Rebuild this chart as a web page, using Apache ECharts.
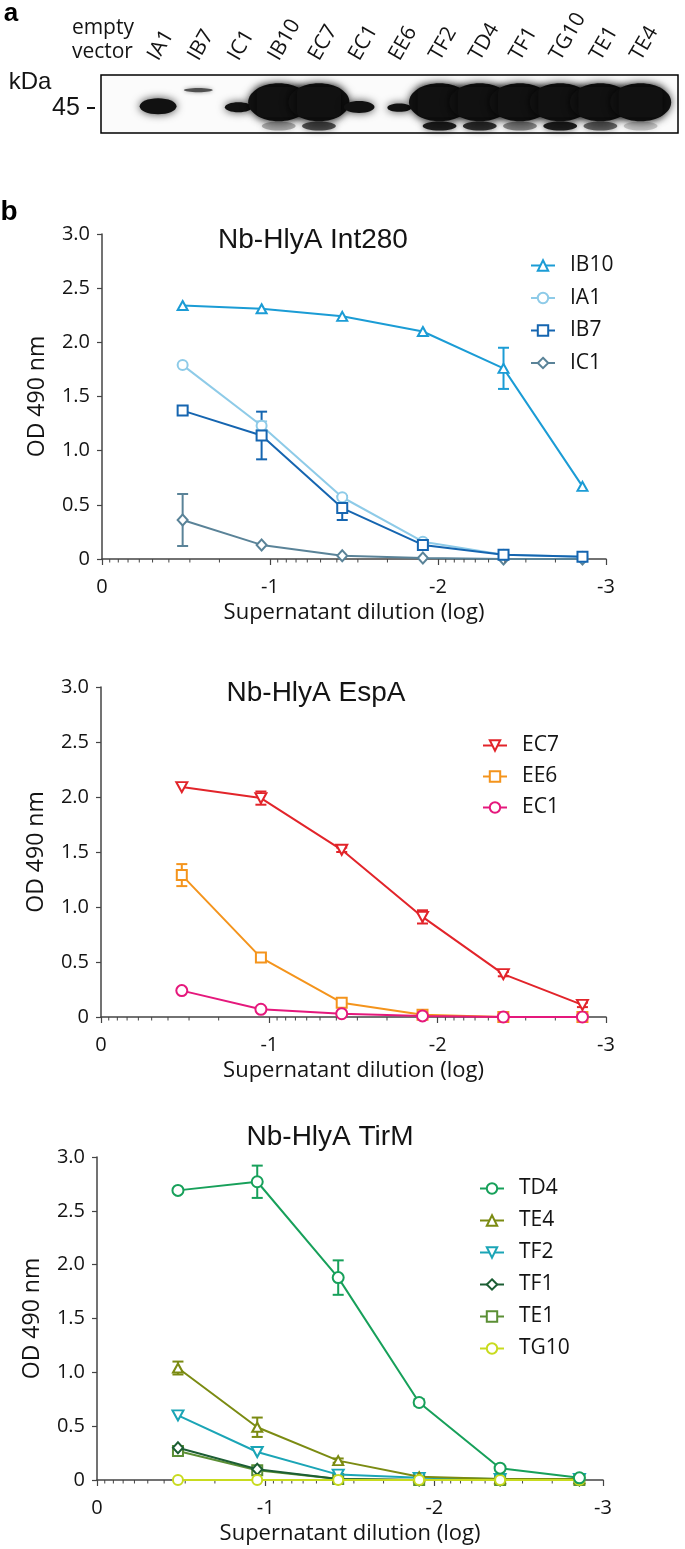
<!DOCTYPE html>
<html><head><meta charset="utf-8">
<script src="https://cdn.jsdelivr.net/npm/echarts@6/dist/echarts.min.js"></script>
<style>html,body{margin:0;padding:0;background:#fff}#c{width:685px;height:1549px}</style>
</head><body><div id="c"></div>
<script>
// ---------- data ----------
const dilutionLog = [-0.48, -0.95, -1.43, -1.91, -2.39, -2.86];
const xTickLabels = ['0', '-1', '-2', '-3'];
const minorTicks = [-0.046, -0.097, -0.155, -0.222, -0.301, -0.398, -0.523, -0.699,
  -1.046, -1.097, -1.155, -1.222, -1.301, -1.398, -1.523, -1.699,
  -2.046, -2.097, -2.155, -2.222, -2.301, -2.398, -2.523, -2.699];

// Nb-HlyA Int280
const IB10 = [2.34, 2.31, 2.24, 2.10, 1.76, 0.67];
const IB10err = [0, 0, 0, 0, 0.19, 0];
const IA1 = [1.79, 1.23, 0.57, 0.16, 0.04, 0.02];
const IA1err = [0, 0.04, 0, 0, 0, 0];
const IB7 = [1.37, 1.14, 0.47, 0.13, 0.04, 0.02];
const IB7err = [0.03, 0.22, 0.11, 0.02, 0, 0];
const IC1 = [0.36, 0.13, 0.03, 0.01, 0.00, 0.00];
const IC1err = [0.24, 0, 0, 0, 0, 0];

// Nb-HlyA EspA
const EC7 = [2.09, 1.99, 1.52, 0.91, 0.39, 0.11];
const EC7err = [0, 0.06, 0.02, 0.06, 0.02, 0.02];
const EE6 = [1.29, 0.54, 0.13, 0.02, 0.00, 0.00];
const EE6err = [0.10, 0.02, 0, 0, 0, 0];
const EC1 = [0.24, 0.07, 0.03, 0.01, 0.00, 0.00];

// Nb-HlyA TirM
const TD4 = [2.69, 2.77, 1.88, 0.72, 0.11, 0.02];
const TD4err = [0, 0.15, 0.16, 0.03, 0.01, 0];
const TE4 = [1.04, 0.49, 0.18, 0.03, 0.01, 0.01];
const TE4err = [0.06, 0.09, 0.02, 0, 0, 0];
const TF2 = [0.60, 0.26, 0.05, 0.02, 0.01, 0.01];
const TF1 = [0.30, 0.10, 0.01, 0.00, 0.00, 0.00];
const TE1 = [0.27, 0.09, 0.01, 0.00, 0.00, 0.00];
const TG10 = [0.00, 0.00, 0.00, 0.00, 0.00, 0.00];

// Western blot lanes (band strength 0..1)
const laneNames = ['empty\nvector', 'IA1', 'IB7', 'IC1', 'IB10', 'EC7', 'EC1', 'EE6', 'TF2', 'TD4', 'TF1', 'TG10', 'TE1', 'TE4'];
const mainBand  = [0, 0.68, 0, 0.5, 1, 1, 0.57, 0.42, 1, 1, 1, 1, 1, 1];
const upperBand = [0, 0, 0.8, 0, 0, 0, 0, 0, 0, 0, 0, 0, 0, 0];
const lowerBand = [0, 0, 0, 0, 0.3, 0.7, 0, 0, 0.95, 0.85, 0.45, 0.95, 0.6, 0.2];

// ---------- styles ----------
const TXT = '#141414';
const AX = '#444';
const FONT = 'Open Sans';
const DOWN_TRI = 'path://M0,0 L10,0 L5,9 Z';

const chart = echarts.init(document.getElementById('c'), null, {renderer: 'canvas'});

function lineSeries(name, values, color, symbol, size, idx, z) {
  return {
    type: 'line', name, xAxisIndex: idx, yAxisIndex: idx,
    data: values.map((v, i) => [dilutionLog[i], v]),
    symbol, symbolSize: size, showAllSymbol: true,
    lineStyle: {color, width: 2},
    itemStyle: {color: '#fff', borderColor: color, borderWidth: 2},
    emphasis: {disabled: true}, silent: true, z: z || 3
  };
}
function errSeries(values, errs, color, idx) {
  const d = [];
  values.forEach((v, i) => { if (errs[i] > 0) d.push([dilutionLog[i], v - errs[i], v + errs[i]]); });
  return {
    type: 'custom', xAxisIndex: idx, yAxisIndex: idx, silent: true, z: 2,
    encode: {x: 0, y: [1, 2]}, data: d,
    renderItem(params, api) {
      const lo = api.coord([api.value(0), api.value(1)]);
      const hi = api.coord([api.value(0), api.value(2)]);
      const st = {stroke: color, lineWidth: 2};
      return {type: 'group', children: [
        {type: 'line', shape: {x1: lo[0], y1: lo[1], x2: hi[0], y2: hi[1]}, style: st},
        {type: 'line', shape: {x1: lo[0] - 5.5, y1: lo[1], x2: lo[0] + 5.5, y2: lo[1]}, style: st},
        {type: 'line', shape: {x1: hi[0] - 5.5, y1: hi[1], x2: hi[0] + 5.5, y2: hi[1]}, style: st}
      ]};
    }
  };
}
function minorSeries(idx) {
  return {
    type: 'custom', xAxisIndex: idx, yAxisIndex: idx, silent: true, z: 5, clip: false,
    data: minorTicks.map(v => [v, 0]),
    renderItem(params, api) {
      const p = api.coord([api.value(0), 0]);
      return {type: 'line', shape: {x1: p[0], y1: p[1], x2: p[0], y2: p[1] + 3.5}, style: {stroke: AX, lineWidth: 1}};
    }
  };
}

function xAxisFor(idx) {
  return {
    gridIndex: idx, type: 'value', min: -3, max: 0, interval: 1, inverse: true,
    name: 'Supernatant dilution (log)', nameLocation: 'middle', nameGap: 43,
    nameTextStyle: {fontFamily: FONT, fontSize: 22, color: TXT},
    axisLine: {show: true, onZero: false, lineStyle: {color: AX, width: 1.5}},
    axisTick: {show: true, length: 6, lineStyle: {color: AX, width: 1.2}},
    axisLabel: {margin: 18, fontFamily: FONT, fontSize: 20, color: TXT,
      formatter: v => xTickLabels[Math.round(-v)]},
    splitLine: {show: false}
  };
}
function yAxisFor(idx) {
  return {
    gridIndex: idx, type: 'value', min: 0, max: 3, interval: 0.5,
    name: 'OD 490 nm', nameLocation: 'middle', nameGap: 53, nameRotate: 90,
    nameTextStyle: {fontFamily: FONT, fontSize: 23, color: TXT},
    axisLine: {show: true, lineStyle: {color: AX, width: 1.5}},
    axisTick: {show: true, length: 5, lineStyle: {color: AX, width: 1.2}},
    axisLabel: {margin: 12, fontFamily: FONT, fontSize: 20, color: TXT,
      formatter: v => v === 0 ? '0' : v.toFixed(1)},
    splitLine: {show: false}
  };
}
function legendFor(names, left, top, gap) {
  return {
    data: names, orient: 'vertical', left, top, padding: 0, itemGap: gap,
    itemWidth: 24, itemHeight: 13, selectedMode: false,
    textStyle: {fontFamily: FONT, fontSize: 21, lineHeight: 21, color: TXT, padding: [0, 0, 0, 10]}
  };
}

// blot renderer
function renderBlot(params, api) {
  const i = params.dataIndex;
  const k = api.value(0), s = api.value(1), u = api.value(2), lo = api.value(3);
  const laneW = api.size([1, 0])[0];
  const top = api.coord([k, 1])[1];
  const ch = [];
  if (lo > 0) {
    const p = api.coord([k, 0.12]);
    ch.push({type: 'ellipse', shape: {cx: p[0], cy: p[1], rx: laneW * 0.42, ry: 4.5},
      style: {fill: '#151515', opacity: lo, shadowBlur: 7, shadowColor: 'rgba(0,0,0,0.7)'}});
  }
  if (u > 0) {
    const p = api.coord([k, 0.74]);
    ch.push({type: 'ellipse', shape: {cx: p[0], cy: p[1], rx: laneW * 0.36, ry: 2.2},
      style: {fill: '#333', opacity: u, shadowBlur: 4, shadowColor: 'rgba(0,0,0,0.5)'}});
  }
  if (s > 0) {
    const p = api.coord([k, 0.43 + 0.1 * s * s * s]);
    const ry = 3 + 16 * s * s * s;
    ch.push({type: 'ellipse', shape: {cx: p[0], cy: p[1], rx: laneW * (0.2 + 0.56 * s * s), ry},
      style: {fill: '#111', shadowBlur: 9, shadowColor: 'rgba(0,0,0,0.75)'}});
    if (s >= 0.95) {
      ch.push({type: 'rect', shape: {x: p[0] - laneW * 0.55, y: p[1] - ry * 0.8, width: laneW * 1.1, height: ry * 1.6, r: 6},
        style: {fill: '#111', shadowBlur: 8, shadowColor: 'rgba(0,0,0,0.7)'}});
    }
  }
  const x0 = api.coord([k, 1])[0];
  if (i === 0) {
    ch.push({type: 'text', x: x0 - 46, y: top - 35, style: {text: laneNames[i], fontFamily: FONT, fontSize: 21, lineHeight: 24,
      fill: TXT, align: 'left', verticalAlign: 'middle'}});
  } else {
    ch.push({type: 'text', x: x0 + 4, y: top - 11, rotation: Math.PI / 3, style: {text: laneNames[i], fontFamily: FONT, fontSize: 21,
      fill: TXT, align: 'left', verticalAlign: 'bottom'}});
  }
  return {type: 'group', children: ch};
}

const option = {
  animation: false,
  backgroundColor: '#fff',
  grid: [
    {left: 101, right: 7, top: 75, bottom: 1416, show: true, borderColor: '#000', borderWidth: 1.5, backgroundColor: '#fbfbfb'},
    {left: 102, right: 79, top: 234, bottom: 990},
    {left: 101, right: 79, top: 687, bottom: 532},
    {left: 97, right: 82, top: 1157, bottom: 69}
  ],
  xAxis: [
    {gridIndex: 0, type: 'value', min: -0.42, max: 13.93, show: false},
    xAxisFor(1), xAxisFor(2), xAxisFor(3)
  ],
  yAxis: [
    {gridIndex: 0, type: 'value', min: 0, max: 1, show: false},
    yAxisFor(1), yAxisFor(2), yAxisFor(3)
  ],
  legend: [
    legendFor(['IB10', 'IA1', 'IB7', 'IC1'], 530, 255, 11.5),
    legendFor(['EC7', 'EE6', 'EC1'], 482, 735, 10),
    legendFor(['TD4', 'TE4', 'TF2', 'TF1', 'TE1', 'TG10'], 479, 1178, 11)
  ],
  graphic: [
    {type: 'text', x: 11, y: 14, style: {text: 'a', font: 'bold 26px "Liberation Sans"', fill: '#000', align: 'center', verticalAlign: 'middle'}},
    {type: 'text', x: 9, y: 212, style: {text: 'b', font: 'bold 28px "Liberation Sans"', fill: '#000', align: 'center', verticalAlign: 'middle'}},
    {type: 'text', x: 30, y: 82, style: {text: 'kDa', font: '24px "Liberation Sans"', fill: TXT, align: 'center', verticalAlign: 'middle'}},
    {type: 'text', x: 66, y: 108, style: {text: '45', font: '25px "Liberation Sans"', fill: TXT, align: 'center', verticalAlign: 'middle'}},
    {type: 'line', shape: {x1: 87, y1: 108, x2: 95, y2: 108}, style: {stroke: TXT, lineWidth: 2}},
    {type: 'text', x: 313, y: 240, style: {text: 'Nb-HlyA Int280', font: '28px "Liberation Sans"', fill: TXT, align: 'center', verticalAlign: 'middle'}},
    {type: 'text', x: 316, y: 693, style: {text: 'Nb-HlyA EspA', font: '28px "Liberation Sans"', fill: TXT, align: 'center', verticalAlign: 'middle'}},
    {type: 'text', x: 330, y: 1137, style: {text: 'Nb-HlyA TirM', font: '28px "Liberation Sans"', fill: TXT, align: 'center', verticalAlign: 'middle'}}
  ],
  series: [
    {type: 'custom', xAxisIndex: 0, yAxisIndex: 0, silent: true, clip: false,
      data: laneNames.map((n, i) => [i, mainBand[i], upperBand[i], lowerBand[i]]), renderItem: renderBlot},
    // chart 1
    errSeries(IB10, IB10err, '#1b9cd5', 1),
    errSeries(IA1, IA1err, '#8ecbe8', 1),
    errSeries(IB7, IB7err, '#1565b0', 1),
    errSeries(IC1, IC1err, '#5a8398', 1),
    lineSeries('IC1', IC1, '#5a8398', 'diamond', [10, 11], 1, 3),
    lineSeries('IA1', IA1, '#8ecbe8', 'circle', 10, 1, 4),
    lineSeries('IB7', IB7, '#1565b0', 'rect', 10, 1, 5),
    lineSeries('IB10', IB10, '#1b9cd5', 'triangle', [10, 9], 1, 6),
    minorSeries(1),
    // chart 2
    errSeries(EC7, EC7err, '#e2242a', 2),
    errSeries(EE6, EE6err, '#f4941c', 2),
    lineSeries('EE6', EE6, '#f4941c', 'rect', 10, 2, 4),
    lineSeries('EC1', EC1, '#e5187c', 'circle', 11, 2, 5),
    lineSeries('EC7', EC7, '#e2242a', DOWN_TRI, [11, 10], 2, 6),
    minorSeries(2),
    // chart 3
    errSeries(TD4, TD4err, '#17a05a', 3),
    errSeries(TE4, TE4err, '#7b8b12', 3),
    lineSeries('TE1', TE1, '#5b8f35', 'rect', 10, 3, 3),
    lineSeries('TF1', TF1, '#1c5e34', 'diamond', [10, 11], 3, 4),
    lineSeries('TF2', TF2, '#1ba5b6', DOWN_TRI, [11, 10], 3, 5),
    lineSeries('TE4', TE4, '#7b8b12', 'triangle', [10, 9], 3, 6),
    lineSeries('TG10', TG10, '#c8db1e', 'circle', 10, 3, 7),
    lineSeries('TD4', TD4, '#17a05a', 'circle', 11, 3, 8),
    minorSeries(3)
  ]
};
chart.setOption(option);
</script></body></html>
